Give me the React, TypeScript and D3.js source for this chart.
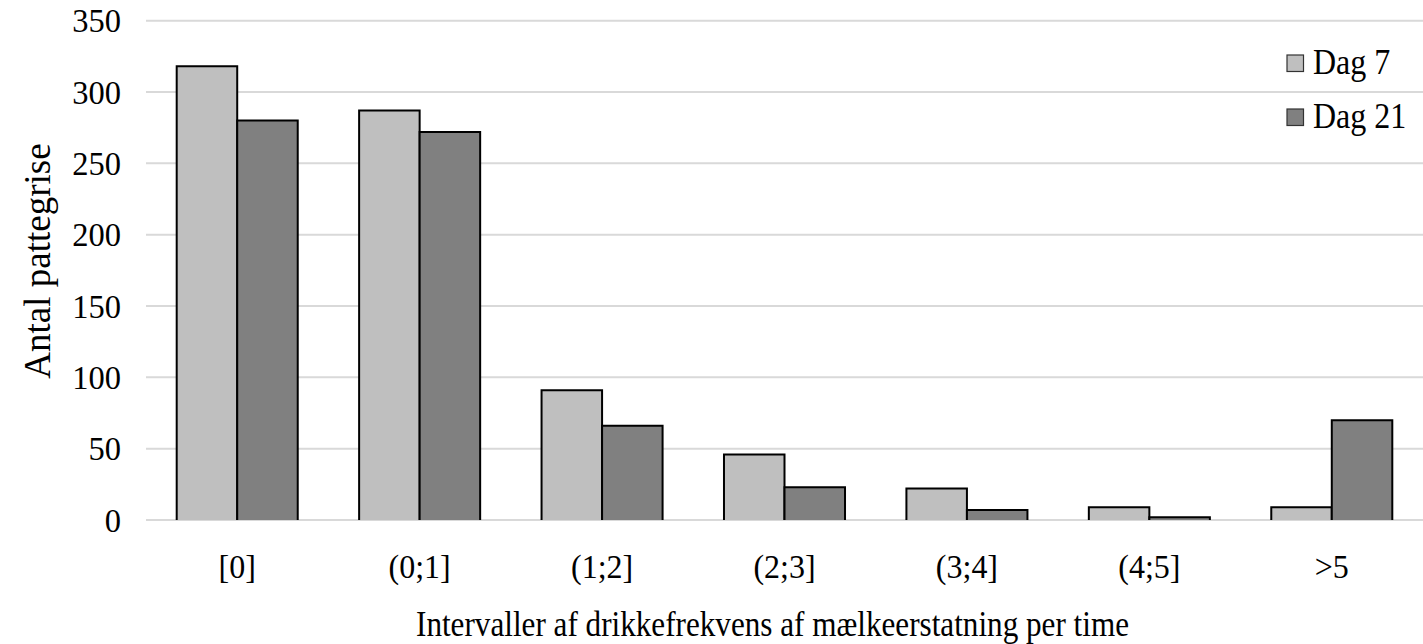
import React from "react";
import * as d3 from "d3";

const categories = ["[0]", "(0;1]", "(1;2]", "(2;3]", "(3;4]", "(4;5]", ">5"];
const seriesNames = ["Dag 7", "Dag 21"];
const dag7 = [318, 287, 91, 46, 22, 9, 9];
const dag21 = [280, 272, 66, 23, 7, 2, 70];
const yTicks = [0, 50, 100, 150, 200, 250, 300, 350];
const colors = ["#bfbfbf", "#808080"];
const xTitle = "Intervaller af drikkefrekvens af mælkeerstatning per time";
const yTitle = "Antal pattegrise";

const W = 1423;
const H = 644;
const FONT = "'Liberation Serif', 'Times New Roman', serif";

export default function App() {
  const x = d3.scaleBand<string>().domain(categories).range([146, 1423]).padding(0);
  const bw = x.bandwidth();
  const x1 = d3.scaleBand<string>().domain(seriesNames).range([30.7, bw - 30.7]).padding(0);
  const y = d3.scaleLinear().domain([0, 350]).range([520, 20.7]);
  const values = [dag7, dag21];

  return (
    <svg
      width={W}
      height={H}
      style={{ position: "absolute", left: 0, top: 0, background: "#fff", display: "block" }}
      fontFamily={FONT}
    >
      <rect x={0} y={0} width={W} height={H} fill="#fff" />
      {yTicks.map((t) => (
        <g key={t}>
          <line x1={146} x2={1423} y1={y(t)} y2={y(t)} stroke="#d9d9d9" strokeWidth={2} />
          <text
            transform={`translate(121,${y(t) + 11.5}) scale(1,1.06)`}
            textAnchor="end"
            fontSize={32.5}
            fill="#000"
          >
            {t}
          </text>
        </g>
      ))}
      {categories.map((c, i) => (
        <g key={c}>
          {seriesNames.map((s, si) => {
            const v = values[si][i];
            const x0 = (x(c) as number) + (x1(s) as number);
            const w = x1.bandwidth();
            const y0 = y(v);
            const yb = y(0);
            return (
              <g key={s}>
                <rect x={x0} y={y0} width={w} height={yb - y0} fill={colors[si]} />
                <path
                  d={`M${x0},${yb}V${y0}H${x0 + w}V${yb}`}
                  fill="none"
                  stroke="#000"
                  strokeWidth={2}
                />
              </g>
            );
          })}
          <text
            transform={`translate(${(x(c) as number) + bw / 2},578) scale(1,1.08)`}
            textAnchor="middle"
            fontSize={32}
            fill="#000"
          >
            {c}
          </text>
        </g>
      ))}
      <text
        transform="translate(416,636) scale(1,1.06)"
        fontSize={33}
        textLength={713}
        lengthAdjust="spacingAndGlyphs"
        fill="#000"
      >
        {xTitle}
      </text>
      <text
        transform={`translate(50,261) rotate(-90)`}
        textAnchor="middle"
        fontSize={37}
        fill="#000"
      >
        {yTitle}
      </text>
      {seriesNames.map((s, si) => (
        <g key={s} transform={`translate(1287,${55 + si * 54})`}>
          <rect x={0} y={0} width={16.5} height={16.5} fill={colors[si]} stroke="#333" strokeWidth={1.2} />
          <text transform="translate(26,18.5) scale(1,1.1)" fontSize={32} fill="#000">
            {s}
          </text>
        </g>
      ))}
    </svg>
  );
}
